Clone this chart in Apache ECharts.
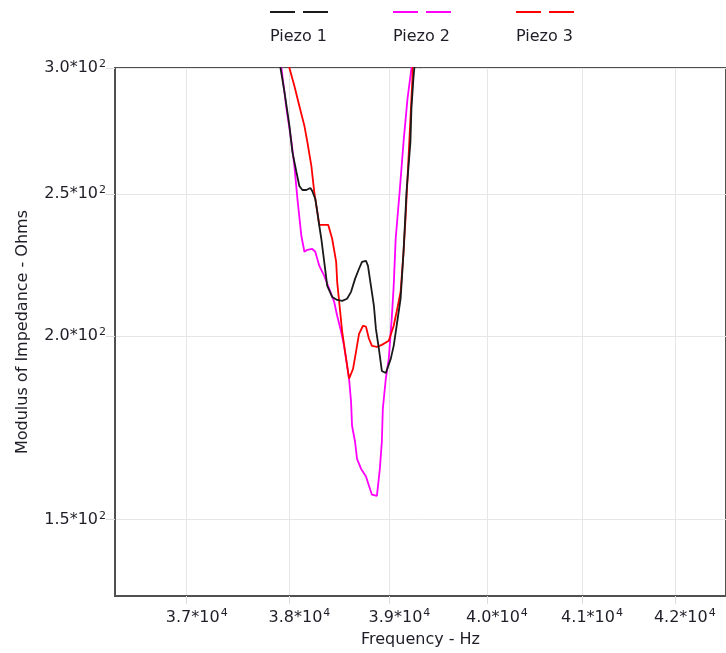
<!DOCTYPE html>
<html>
<head>
<meta charset="utf-8">
<script src="https://cdn.jsdelivr.net/npm/echarts@6/dist/echarts.min.js"></script>
<style>
html,body{margin:0;padding:0;background:#fff;}
#chart{width:726px;height:653px;}
</style>
</head>
<body>
<div id="chart"></div>
<script>
// Frequency (Hz) / modulus of impedance (Ohms) pairs
var seriesNames = ['Piezo 1', 'Piezo 2', 'Piezo 3'];
var xTicks = [37000, 38000, 39000, 40000, 41000, 42000];
var yTicks = [150, 200, 250, 304.5];

var piezo1 = [
  [37895, 315], [37912, 304.5], [37951, 293.3], [38000, 278.1], [38029, 267.0], [38069, 258.7],
  [38098, 253.1], [38128, 251.5], [38167, 251.5], [38207, 252.3], [38226, 251.1], [38256, 248.0],
  [38276, 243.0], [38296, 237.7], [38316, 233.0], [38345, 224.7], [38375, 216.4], [38424, 212.7],
  [38474, 211.7], [38524, 211.4], [38573, 212.1], [38613, 214.4], [38653, 218.8], [38693, 222.3],
  [38723, 224.7], [38763, 225.1], [38783, 223.3], [38813, 216.4], [38843, 209.7], [38863, 202.3],
  [38893, 196.1], [38923, 189.4], [38963, 188.8], [38983, 189.1], [39013, 193.0], [39043, 197.0],
  [39073, 203.3], [39113, 212.1], [39143, 228.3], [39173, 250.7], [39213, 271.2], [39223, 285.6],
  [39243, 299.3], [39253, 304.5], [39265, 315]
];
var piezo2 = [
  [37905, 315], [37921, 304.5], [37971, 285.6], [38020, 271.2], [38049, 261.2], [38079, 248.0],
  [38118, 234.0], [38148, 228.3], [38177, 229.0], [38226, 229.3], [38256, 228.3], [38296, 223.3],
  [38345, 219.8], [38395, 215.4], [38444, 211.1], [38474, 206.5], [38514, 201.4], [38543, 197.0],
  [38563, 193.0], [38593, 187.1], [38613, 180.5], [38623, 173.8], [38653, 169.5], [38673, 165.0],
  [38713, 162.5], [38763, 160.5], [38793, 158.2], [38823, 156.0], [38873, 155.7], [38903, 162.5],
  [38923, 169.5], [38933, 178.5], [38963, 187.1], [38993, 193.0], [39023, 205.5], [39043, 216.4],
  [39063, 233.0], [39103, 250.7], [39143, 271.2], [39183, 290.1], [39223, 304.2], [39235, 315]
];
var piezo3 = [
  [37988, 315], [38000, 304.5], [38049, 296.0], [38098, 286.9], [38148, 278.1], [38177, 271.2],
  [38217, 261.2], [38246, 250.7], [38276, 243.0], [38296, 238.1], [38385, 238.1], [38424, 233.0],
  [38464, 224.7], [38474, 217.8], [38494, 211.1], [38524, 201.4], [38553, 195.2], [38593, 187.1],
  [38633, 190.0], [38663, 195.2], [38693, 200.7], [38733, 203.3], [38763, 203.0], [38793, 199.2],
  [38823, 197.0], [38873, 196.7], [38923, 197.3], [38993, 198.6], [39043, 203.3], [39073, 207.8],
  [39113, 214.4], [39143, 228.3], [39163, 240.4], [39193, 264.0], [39233, 299.3], [39240, 315]
];

var colors = ['#1a1a1a', '#ff00ff', '#ff0000'];
var FONT = 'DejaVu Sans';
var TXT = '#1e1e28';

var chart = echarts.init(document.getElementById('chart'), null, {renderer: 'canvas'});

function supLabel(exp) {
  return function (v) {
    var d = Math.pow(10, exp);
    return (v / d).toFixed(1) + '*10{s|' + exp + '}';
  };
}
var supRich = {
  s: {fontSize: 11, fontFamily: FONT, color: TXT, verticalAlign: 'top', padding: [0, 0, 8, 1]}
};

var legendRich = {
  n: {fontSize: 16, fontFamily: FONT, color: TXT, lineHeight: 48},
  g: {width: 8, height: 2, lineHeight: 2, fontSize: 1}
};
colors.forEach(function (c, i) {
  legendRich['d' + i] = {width: 25, height: 2, lineHeight: 2, fontSize: 1, backgroundColor: c};
});

var option = {
  animation: false,
  backgroundColor: '#ffffff',
  color: colors,
  textStyle: {fontFamily: FONT},
  legend: {
    top: 6,
    left: 260,
    itemGap: 60,
    itemWidth: 0,
    itemHeight: 0,
    icon: 'rect',
    data: seriesNames,
    formatter: function (name) {
      var i = seriesNames.indexOf(name);
      return '{d' + i + '|\u00a0}{g|\u00a0}{d' + i + '|\u00a0}\n{n|' + name + '}';
    },
    textStyle: {rich: legendRich, color: TXT, fontSize: 16}
  },
  grid: {
    left: 115, top: 68, right: -2, bottom: 56,
    show: true, borderColor: '#505050', borderWidth: 2, backgroundColor: 'transparent',
    containLabel: false
  },
  xAxis: {
    type: 'log',
    min: 36317,
    max: 42562,
    name: 'Frequency - Hz',
    nameLocation: 'middle',
    nameGap: 36,
    nameTextStyle: {fontSize: 16, fontFamily: FONT, color: TXT},
    axisLine: {show: true, lineStyle: {color: '#505050', width: 2}},
    axisTick: {show: true, customValues: xTicks, length: 8, lineStyle: {color: '#dcdcdc'}},
    minorTick: {show: false},
    axisLabel: {
      customValues: xTicks,
      margin: 12,
      fontSize: 16,
      fontFamily: FONT,
      color: TXT,
      padding: [0, 0, 0, 20],
      formatter: supLabel(4),
      rich: supRich
    },
    splitLine: {show: true, lineStyle: {color: '#e6e6e6', width: 1}},
    minorSplitLine: {show: false}
  },
  yAxis: {
    type: 'log',
    min: 133.1,
    max: 304.5,
    name: 'Modulus of Impedance - Ohms',
    nameLocation: 'middle',
    nameGap: 84,
    nameTextStyle: {fontSize: 16, fontFamily: FONT, color: TXT},
    axisLine: {show: true, lineStyle: {color: '#505050', width: 2}},
    axisTick: {show: true, customValues: yTicks, length: 9, lineStyle: {color: '#dcdcdc'}},
    minorTick: {show: false},
    axisLabel: {
      customValues: yTicks,
      margin: 9,
      fontSize: 16,
      fontFamily: FONT,
      color: TXT,
      formatter: supLabel(2),
      rich: supRich
    },
    splitLine: {show: true, lineStyle: {color: '#e6e6e6', width: 1}},
    minorSplitLine: {show: false}
  },
  series: [
    {name: seriesNames[0], type: 'line', data: piezo1, showSymbol: false, symbol: 'none', clip: true,
     lineStyle: {color: colors[0], width: 1.8}, z: 3},
    {name: seriesNames[1], type: 'line', data: piezo2, showSymbol: false, symbol: 'none', clip: true,
     lineStyle: {color: colors[1], width: 1.8}, z: 2},
    {name: seriesNames[2], type: 'line', data: piezo3, showSymbol: false, symbol: 'none', clip: true,
     lineStyle: {color: colors[2], width: 1.8}, z: 2}
  ]
};
chart.setOption(option);
</script>
</body>
</html>
